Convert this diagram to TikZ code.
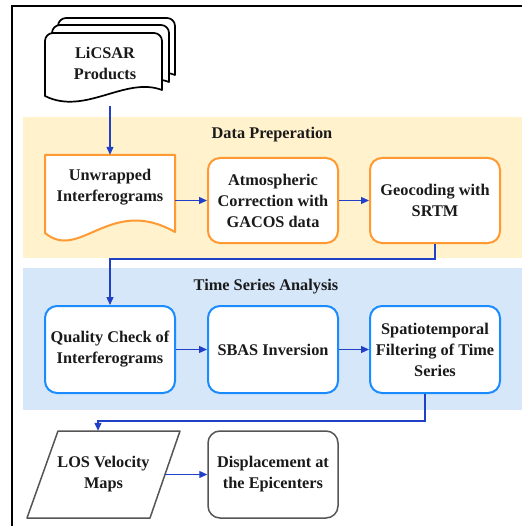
\documentclass[tikz,border=0pt]{standalone}
\usepackage{fontspec}
\setmainfont{Liberation Serif}[BoldFont={Liberation Serif Bold}]
\newfontfamily\diagfont{Liberation Serif}[UprightFont={* Bold}]
\usetikzlibrary{arrows.meta,calc}
\definecolor{bandor}{HTML}{FFF2CC}
\definecolor{bandbl}{HTML}{D6E7FA}
\definecolor{lineor}{HTML}{FF9A33}
\definecolor{linebl}{HTML}{1A8CFF}
\definecolor{arr}{HTML}{2040C8}
\definecolor{grayb}{HTML}{555555}
\definecolor{txt}{HTML}{1A1A1A}
\begin{document}
\begin{tikzpicture}[x=1pt,y=-1pt,
  lbl/.style={font=\diagfont\fontsize{16.3}{21}\selectfont, text=txt, align=center, inner sep=0pt},
  procbox/.style={lbl, draw, fill=white, rounded corners=12pt, line width=2pt, minimum width=130pt, minimum height=86pt},
  orbox/.style={procbox, draw=lineor},
  blbox/.style={procbox, draw=linebl},
  grbox/.style={procbox, draw=grayb, line width=1.5pt},
  ghost/.style={inner sep=0pt, minimum width=#1},
  conn/.style={draw=arr, line width=1.3pt, -{Triangle[length=8pt,width=7pt]}},
  banner/.style={font=\diagfont\fontsize{16.3}{21}\selectfont, text=txt, inner sep=0pt},
  licdoc/.style={draw=black, fill=white, line width=1.7pt, line join=round}
]
\useasboundingbox (0,0) rectangle (522,526);
\fill[white] (0,0) rectangle (522,526);
% frame
\draw[line width=1.2pt, black] (12,526) -- (12,6) -- (522,6);
% bands
\fill[bandor] (23,117) rectangle (522,258);
\fill[bandbl] (23,268) rectangle (522,410);
\node[banner] (dp) at (272,135) {Data Preperation};
\node[banner] (tsa) at (266,287) {Time Series Analysis};
% LiCSAR multi-document
\foreach \dx/\dy in {13/-15, 7/-8, 0/0}{
  \begin{scope}[shift={(\dx,\dy)}]
    \draw[licdoc] (45,96) -- (45,41) .. controls (45,36.6) and (48.6,33) .. (53,33)
      -- (154,33) .. controls (158.4,33) and (162,36.6) .. (162,41)
      -- (162,90) .. controls (125,76) and (85,116) .. (45,96) -- cycle;
  \end{scope}
}
\node[lbl] (lic) at (105,63) {LiCSAR\\Products};
\coordinate (licb) at (110,106);
% Unwrapped document
\draw[draw=lineor, fill=white, line width=2pt, line join=round]
  (45,233) -- (45,155) -- (175,155) -- (175,232)
  .. controls (110,195) and (80,262) .. (45,233) -- cycle;
\node[ghost=130pt, minimum height=76pt] (unw) at (110,193) {};
\node[lbl] (unwt) at (110,187.5) {Unwrapped\\Interferograms};
% Data preparation boxes
\node[orbox, minimum height=85pt] (atm) at (273,200.5) {Atmospheric\\Correction with\\GACOS data};
\node[orbox, minimum height=85pt] (geo) at (435,200.5) {Geocoding with\\SRTM};
% Time series boxes
\node[blbox, minimum height=87pt] (qc) at (110,349.5) {Quality Check of\\Interferograms};
\node[blbox, minimum height=87pt] (sbas) at (273,349.5) {SBAS Inversion};
\node[blbox, minimum height=87pt] (sp) at (435,349.5) {Spatiotemporal\\Filtering of Time\\Series};
% Outputs
\draw[draw=grayb, fill=white, line width=1.5pt, line join=round]
  (58,431) -- (180,431) -- (150,518) -- (27,518) -- cycle;
\node[lbl, minimum width=123pt, minimum height=87pt] (los) at (103.5,474.5) {LOS Velocity\\Maps};
\node[grbox, minimum height=87pt] (disp) at (273,474.5) {Displacement at\\the Epicenters};
% connectors
\draw[conn] (licb) -- (unw.north);
\draw[conn] (unw.east |- atm.west) -- (atm.west);
\draw[conn] (atm) -- (geo);
\draw[conn] (geo.south) -- ++(0,15) -| (qc.north);
\draw[conn] (qc) -- (sbas);
\draw[conn] (sbas) -- (sp);
\draw[conn] ([xshift=-10pt]sp.south) -- ++(0,27) -| ([xshift=-5.5pt]los.north);
\draw[conn] (los) -- (disp);
\end{tikzpicture}
\end{document}
